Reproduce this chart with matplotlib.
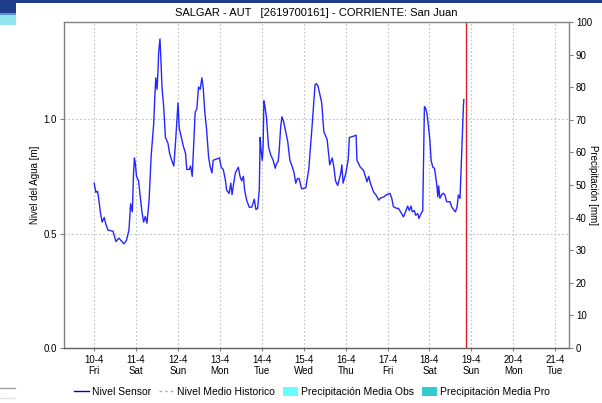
import matplotlib
matplotlib.use('Agg')
import matplotlib.pyplot as plt
import matplotlib.lines as mlines
import matplotlib.patches as mpatches
import numpy as np

plt.rcParams['font.family'] = ['Liberation Sans', 'DejaVu Sans']

# time axis: days since 10-4 00:00
t_days = [
  0.00, 0.04, 0.08, 0.11, 0.15, 0.19, 0.24, 0.28, 0.33, 0.45, 0.52, 0.59, 0.71, 0.77, 0.83,
  0.87, 0.91, 0.94, 0.96, 0.98, 1.01, 1.06, 1.10, 1.14, 1.18, 1.22, 1.26, 1.31, 1.36, 1.42,
  1.45, 1.47, 1.50, 1.52, 1.54, 1.57, 1.59, 1.62, 1.66, 1.70, 1.76, 1.80, 1.85, 1.90, 1.94,
  1.97, 2.00, 2.03, 2.08, 2.13, 2.18, 2.21, 2.27, 2.30, 2.34, 2.38, 2.41, 2.45, 2.49, 2.53,
  2.57, 2.60, 2.64, 2.68, 2.73, 2.77, 2.81, 2.84, 2.91, 2.99, 3.03, 3.08, 3.13, 3.16, 3.22,
  3.26, 3.29, 3.33, 3.37, 3.44, 3.48, 3.52, 3.56, 3.59, 3.64, 3.70, 3.76, 3.82, 3.86, 3.90,
  3.94, 3.96, 3.98, 4.01, 4.03, 4.05, 4.08, 4.11, 4.16, 4.21, 4.27, 4.32, 4.35, 4.39, 4.41,
  4.45, 4.48, 4.52, 4.57, 4.62, 4.67, 4.73, 4.77, 4.81, 4.85, 4.89, 4.95, 5.05, 5.12, 5.20,
  5.27, 5.30, 5.34, 5.43, 5.48, 5.56, 5.62, 5.68, 5.72, 5.76, 5.81, 5.88, 5.91, 5.94, 6.00,
  6.06, 6.09, 6.19, 6.25, 6.27, 6.35, 6.43, 6.47, 6.51, 6.55, 6.59, 6.67, 6.72, 6.79, 6.83,
  6.91, 6.98, 7.06, 7.10, 7.14, 7.22, 7.26, 7.33, 7.38, 7.43, 7.48, 7.52, 7.56, 7.59, 7.64,
  7.67, 7.72, 7.75, 7.80, 7.84, 7.86, 7.88, 7.91, 7.94, 7.97, 8.01, 8.04, 8.08, 8.12, 8.15,
  8.18, 8.20, 8.22, 8.25, 8.29, 8.33, 8.37, 8.41, 8.49, 8.53, 8.58, 8.62, 8.66, 8.69, 8.73,
  8.75, 8.78, 8.81, 8.82,
]

# water level from the sensor [m]
nivel_sensor = [
  0.72, 0.68, 0.685, 0.65, 0.59, 0.55, 0.57, 0.54, 0.515, 0.51, 0.465, 0.48, 0.455, 0.47, 0.515,
  0.63, 0.595, 0.765, 0.83, 0.81, 0.75, 0.73, 0.66, 0.595, 0.55, 0.575, 0.545, 0.645, 0.84, 0.98,
  1.11, 1.18, 1.13, 1.20, 1.295, 1.35, 1.27, 1.135, 1.05, 0.92, 0.895, 0.85, 0.82, 0.795, 0.895,
  0.98, 1.07, 0.96, 0.92, 0.88, 0.85, 0.78, 0.78, 0.795, 0.75, 0.91, 1.03, 1.045, 1.14, 1.13,
  1.18, 1.14, 1.03, 0.96, 0.835, 0.79, 0.765, 0.82, 0.825, 0.83, 0.79, 0.78, 0.735, 0.69, 0.675,
  0.72, 0.67, 0.72, 0.765, 0.79, 0.75, 0.73, 0.75, 0.69, 0.645, 0.615, 0.615, 0.65, 0.605, 0.61,
  0.69, 0.92, 0.87, 0.82, 0.87, 1.08, 1.05, 1.01, 0.88, 0.845, 0.82, 0.785, 0.805, 0.815, 0.85,
  0.965, 1.01, 0.99, 0.945, 0.90, 0.82, 0.79, 0.765, 0.72, 0.74, 0.74, 0.695, 0.70, 0.78, 0.97,
  1.15, 1.155, 1.145, 1.07, 0.945, 0.91, 0.80, 0.83, 0.79, 0.73, 0.71, 0.76, 0.80, 0.72, 0.76,
  0.82, 0.92, 0.925, 0.93, 0.82, 0.79, 0.775, 0.75, 0.726, 0.75, 0.72, 0.68, 0.67, 0.646, 0.655,
  0.66, 0.67, 0.675, 0.655, 0.617, 0.61, 0.61, 0.589, 0.573, 0.595, 0.62, 0.60, 0.62, 0.595, 0.60,
  0.58, 0.587, 0.566, 0.587, 0.60, 0.83, 1.054, 1.047, 1.025, 0.98, 0.908, 0.82, 0.79, 0.785, 0.748,
  0.705, 0.66, 0.708, 0.654, 0.668, 0.676, 0.668, 0.639, 0.639, 0.617, 0.603, 0.595, 0.617, 0.668, 0.654,
  0.756, 0.908, 1.054, 1.085,
]

# day labels
day_labels = ['10-4', '11-4', '12-4', '13-4', '14-4', '15-4', '16-4', '17-4', '18-4', '19-4', '20-4', '21-4']
weekday_labels = ['Fri', 'Sat', 'Sun', 'Mon', 'Tue', 'Wed', 'Thu', 'Fri', 'Sat', 'Sun', 'Mon', 'Tue']

# current time marker (days since 10-4)
t_now = 8.88

title_str = 'SALGAR - AUT   [2619700161] - CORRIENTE: San Juan'

grid_col = '#c0c0c0'
axis_col = '#808080'

fig = plt.figure(figsize=(6.02, 4.03), dpi=100)
ax = fig.add_axes([64/602, 1 - 348/403, (569 - 64)/602, (348 - 22)/403])

# header decoration
fig.patches.append(mpatches.Rectangle((0, 1 - 3/403), 1, 3/403, transform=fig.transFigure,
                                      facecolor='#1e3d8a', edgecolor='none'))
fig.patches.append(mpatches.Rectangle((0, 1 - 13/403), 16/602, 13/403, transform=fig.transFigure,
                                      facecolor='#1e3d8a', edgecolor='none'))
fig.patches.append(mpatches.Rectangle((0, 1 - 15/403), 16/602, 2/403, transform=fig.transFigure,
                                      facecolor='#5a8fd0', edgecolor='none'))
fig.patches.append(mpatches.Rectangle((0, 1 - 25/403), 16/602, 10/403, transform=fig.transFigure,
                                      facecolor='#8fe4ee', edgecolor='none'))
# footer decoration
fig.add_artist(mlines.Line2D([0, 15/602], [1 - 388/403, 1 - 388/403], color='#a0a0a0', lw=1))
fig.add_artist(mlines.Line2D([0, 15/602], [1 - 398/403, 1 - 398/403], color='#c8c8c8', lw=1, ls=(0, (1, 1))))

ax.plot(t_days, nivel_sensor, color='#0000ff', lw=1.0, alpha=0.85)
ax.axvline(t_now, color='#e02020', lw=1.0)

ax.set_xlim(-0.72, 11.33)
ax.set_ylim(0, 1.424)
ax.set_xticks(np.arange(len(day_labels)))
ax.set_xticklabels([f'{d}\n{w}' for d, w in zip(day_labels, weekday_labels)], fontsize=7, linespacing=1.1)
ax.set_yticks([0.0, 0.5, 1.0])
ax.set_yticklabels(['0.0', '0.5', '1.0'], fontsize=7)
ax.grid(True, color=grid_col, linestyle=(0, (1.5, 2)), lw=0.8)
ax.set_ylabel('Nivel del Agua [m]', fontsize=7, va='center', ha='center')
ax.yaxis.set_label_coords(-0.057, 0.5)
ax.tick_params(axis='x', length=2, color=axis_col, pad=3)
ax.tick_params(axis='y', length=3, color=axis_col, pad=2)

for side in ['left', 'top', 'right']:
  ax.spines[side].set_color(axis_col)
  ax.spines[side].set_linewidth(1.0)
ax.spines['bottom'].set_color('#606060')
ax.spines['bottom'].set_linestyle((0, (1, 1)))
ax.spines['bottom'].set_linewidth(1.0)

ax2 = ax.twinx()
ax2.set_ylim(0, 100)
ax2.set_yticks(np.arange(0, 101, 10))
ax2.set_yticklabels([str(v) for v in range(0, 101, 10)], fontsize=7)
ax2.tick_params(axis='y', length=3, color=axis_col, pad=2)
ax2.set_ylabel('Precipitación [mm]', fontsize=7, rotation=-90, va='center', ha='center')
ax2.yaxis.set_label_coords(1.047, 0.5)
for side in ['left', 'top', 'right', 'bottom']:
  ax2.spines[side].set_visible(False)

ax.set_title(title_str, fontsize=8, pad=4)

# legend
h_sensor = mlines.Line2D([], [], color='#0000cc', lw=1.0)
h_hist = mlines.Line2D([], [], color='#b0b0b0', lw=1.0, ls=(0, (2, 2)))
h_obs = mpatches.Patch(facecolor='#66ffff', edgecolor='none')
h_pro = mpatches.Patch(facecolor='#33cccc', edgecolor='none')
fig.legend([h_sensor, h_hist, h_obs, h_pro],
           ['Nivel Sensor', 'Nivel Medio Historico', 'Precipitación Media Obs', 'Precipitación Media Pro'],
           loc='center', bbox_to_anchor=(312/602, 1 - 392/403), ncol=4, frameon=False, fontsize=7.5,
           handlelength=1.4, handleheight=1.0, handletextpad=0.3, columnspacing=0.8, borderpad=0)

fig.savefig('out.png', dpi=100)
